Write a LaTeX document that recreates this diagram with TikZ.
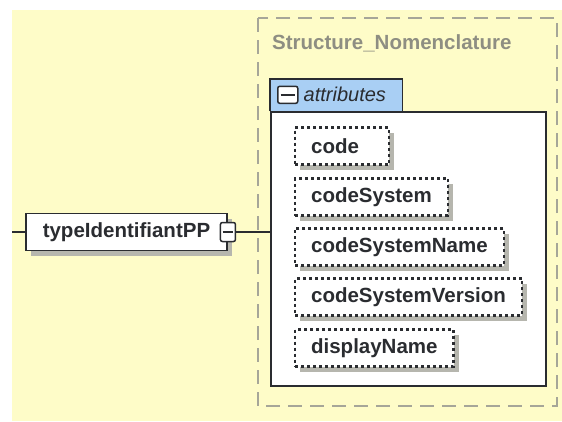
\documentclass[tikz,border=0pt]{standalone}
\usepackage{fontspec}
\setmainfont{Liberation Sans}
\usetikzlibrary{positioning,shadows}
\definecolor{xsdyellow}{HTML}{FEFCC8}
\definecolor{xsdblue}{HTML}{A9CFF4}
\definecolor{xsdgray}{HTML}{A6A698}
\definecolor{xsdtitle}{HTML}{8E8E82}
\definecolor{xsdshadow}{HTML}{B6B6AE}
\definecolor{xsdink}{HTML}{2A2C30}

\begin{document}
\begin{tikzpicture}[x=1pt, y=-1pt,
    elem/.style={draw=xsdink, line width=1.5pt, fill=white, text=xsdink,
        font=\bfseries\fontsize{20.5}{20.5}\selectfont, inner xsep=16pt, inner ysep=0pt,
        minimum height=37pt, anchor=west,
        drop shadow={shadow xshift=5pt, shadow yshift=-5pt, fill=xsdshadow, opacity=1}},
    attr/.style={elem, line width=2.2pt, dash pattern=on 3pt off 3pt},
    minus/.style={draw=xsdink, line width=1.5pt, rounded corners=2pt, fill=white,
        minimum width=15pt, minimum height=19pt, inner sep=0pt}]

    \useasboundingbox (0,0) rectangle (562,421);
    \fill[xsdyellow] (12,10) rectangle (562,421);

    % complex type group
    \draw[xsdgray, line width=1.6pt, dash pattern=on 14pt off 8pt] (258,18) rectangle (557,406);
    \node[anchor=west, text=xsdtitle, font=\bfseries\fontsize{20.5}{20.5}\selectfont, inner sep=0pt] (grp) at (272,43) {Structure\_Nomenclature};

    % attributes compartment
    \node[draw=xsdink, line width=1.8pt, fill=white, anchor=north west, inner sep=0pt,
        minimum width=275pt, minimum height=274pt] (att) at (270,111) {};
    \node[fill=xsdblue, anchor=south west, inner sep=0pt, minimum width=132pt, minimum height=32pt] (tab) at (att.north west) {};
    \draw[xsdink, line width=1.8pt] (att.north west) |- (tab.north east) -- (tab.south east);
    \node[minus, minimum width=20pt, minimum height=17pt, anchor=west] (attminus) at ([xshift=7pt]tab.west) {};
    \draw[xsdink, line width=1.6pt] ([xshift=3.5pt]attminus.west) -- ([xshift=-3.5pt]attminus.east);
    \node[right=5pt of attminus, inner sep=0pt, text=xsdink, font=\itshape\fontsize{20}{20}\selectfont] (attlbl) {attributes};

    \node[attr, text width=62pt, align=left] (code) at (294,146) {code};
    \node[attr] (codesys) at (294,197) {codeSystem};
    \node[attr] (codesysname) at (294,247) {codeSystemName};
    \node[attr] (codesysver) at (294,297) {codeSystemVersion};
    \node[attr] (dispname) at (294,348) {displayName};

    % element
    \coordinate (src) at (12,232);
    \node[elem, inner xsep=17pt] (tip) at (25,232) {typeIdentifiantPP};
    \node[minus] (tipminus) at (tip.east) {};
    \draw[xsdink, line width=1.5pt] ([xshift=3pt]tipminus.west) -- ([xshift=-3pt]tipminus.east);

    \draw[xsdink, line width=1.4pt] (src) -- (tip);
    \draw[xsdink, line width=1.4pt] (tipminus) -- (tipminus -| att.west);
\end{tikzpicture}
\end{document}
